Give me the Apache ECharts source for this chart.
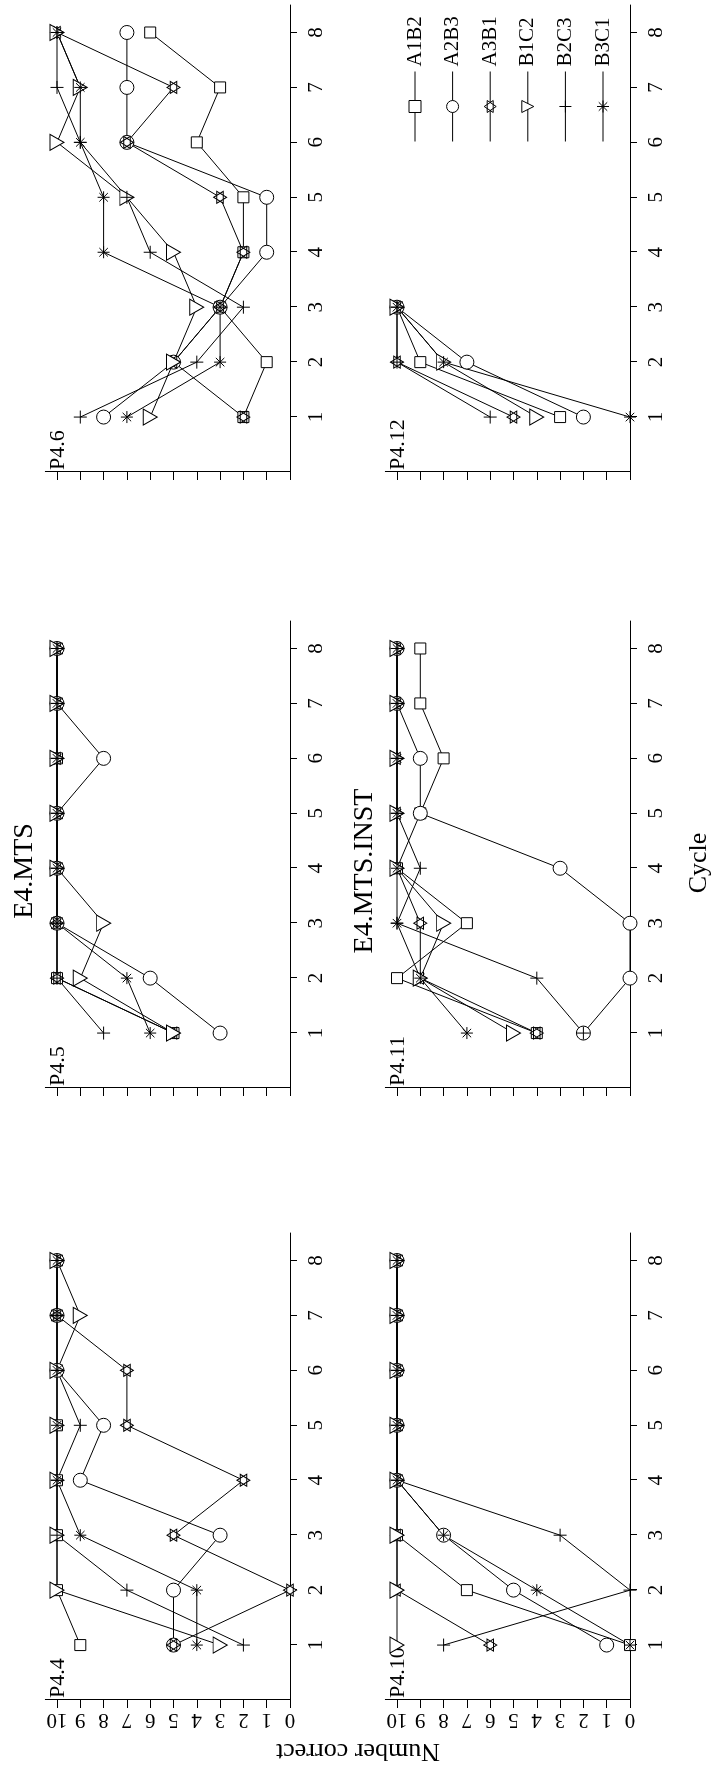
<!DOCTYPE html>
<html>
<head>
<meta charset="utf-8">
<script src="https://cdn.jsdelivr.net/npm/echarts@6/dist/echarts.min.js"></script>
<style>
  html, body { margin: 0; padding: 0; background: #fff; width: 715px; height: 1767px; overflow: hidden; }
  #wrap { position: absolute; left: 0; top: 0; width: 1767px; height: 715px;
          transform-origin: 0 0; transform: translate(0px, 1767px) rotate(-90deg); }
  #chart { width: 1767px; height: 715px; }
</style>
</head>
<body>
<div id="wrap"><div id="chart"></div></div>
<script>
// ---------------- data ----------------
const cycles = [1, 2, 3, 4, 5, 6, 7, 8];
const groups = ['A1B2', 'A2B3', 'A3B1', 'B1C2', 'B2C3', 'B3C1'];
const cycleTicks = [1, 2, 3, 4, 5, 6, 7, 8];
const valueTicks = [0, 1, 2, 3, 4, 5, 6, 7, 8, 9, 10];
const panelNames = ['P4.4', 'P4.5', 'P4.6', 'P4.10', 'P4.11', 'P4.12'];
const columnTitles = ['E4.MTS', 'E4.MTS.INST'];
const xTitle = 'Cycle';
const yTitle = 'Number correct';

// number correct per cycle, one row per group (order of `groups`)
const P4_4 = [
  [9, 10, 10, 10, 10, 10, 10, 10],
  [5, 5, 3, 9, 8, 10, 10, 10],
  [5, 0, 5, 2, 7, 7, 10, 10],
  [3, 10, 10, 10, 10, 10, 9, 10],
  [2, 7, 10, 10, 9, 10, 10, 10],
  [4, 4, 9, 10, 10, 10, 10, 10]
];
const P4_5 = [
  [5, 10, 10, 10, 10, 10, 10, 10],
  [3, 6, 10, 10, 10, 8, 10, 10],
  [5, 10, 10, 10, 10, 10, 10, 10],
  [5, 9, 8, 10, 10, 10, 10, 10],
  [8, 10, 10, 10, 10, 10, 10, 10],
  [6, 7, 10, 10, 10, 10, 10, 10]
];
const P4_6 = [
  [2, 1, 3, 2, 2, 4, 3, 6],
  [8, 5, 3, 1, 1, 7, 7, 7],
  [2, 5, 3, 2, 3, 7, 5, 10],
  [6, 5, 4, 5, 7, 10, 9, 10],
  [9, 4, 2, 6, 7, 9, 10, 10],
  [7, 3, 3, 8, 8, 9, 9, 10]
];
const P4_10 = [
  [0, 7, 10, 10, 10, 10, 10, 10],
  [1, 5, 8, 10, 10, 10, 10, 10],
  [6, 10, 10, 10, 10, 10, 10, 10],
  [10, 10, 10, 10, 10, 10, 10, 10],
  [8, 0, 3, 10, 10, 10, 10, 10],
  [0, 4, 8, 10, 10, 10, 10, 10]
];
const P4_11 = [
  [4, 10, 7, 10, 9, 8, 9, 9],
  [2, 0, 0, 3, 9, 9, 10, 10],
  [4, 9, 9, 10, 10, 10, 10, 10],
  [5, 9, 8, 10, 10, 10, 10, 10],
  [2, 4, 10, 9, 10, 10, 10, 10],
  [7, 9, 10, 10, 10, 10, 10, 10]
];
const P4_12 = [
  [3, 9, 10],
  [2, 7, 10],
  [5, 10, 10],
  [4, 8, 10],
  [6, 10, 10],
  [0, 8, 10]
];
const panels = [P4_4, P4_5, P4_6, P4_10, P4_11, P4_12];

// ---------------- styling / layout (drawn in the un-rotated frame, then the page rotates it) ----------------
const FONT = '"Liberation Serif", "DejaVu Serif", serif';
const colLeft = [67, 679, 1295];
const rowTop = [45.35, 385.35];
const gridW = 467;
const gridH = 244.65;

const symbols = [
  'rect',
  'circle',
  'path://M5,0L9.33,7.5L0.67,7.5Z M5,10L0.67,2.5L9.33,2.5Z',
  'path://M0,0L10,0L5,8.66Z',
  'path://M5,0L5,10M0,5L10,5',
  'path://M5,0L5,10M0,5L10,5M1.46,1.46L8.54,8.54M8.54,1.46L1.46,8.54'
];
const symbolSizes = [11, 14, [12, 13], [16, 14], 13, 12];

const grids = [], xAxes = [], yAxes = [], series = [], graphics = [];
panels.forEach((panel, p) => {
  const row = Math.floor(p / 3), col = p % 3;
  grids.push({ left: colLeft[col], top: rowTop[row], width: gridW, height: gridH });
  xAxes.push({
    type: 'value', gridIndex: p, min: 0, max: 8.5,
    axisLine: { show: true, onZero: false, lineStyle: { color: '#000', width: 1 } },
    axisTick: { show: true, length: 7, customValues: cycleTicks, lineStyle: { color: '#000', width: 1 } },
    axisLabel: { show: true, customValues: cycleTicks, color: '#000', fontFamily: FONT, fontSize: 21, margin: 16 },
    splitLine: { show: false }
  });
  yAxes.push({
    type: 'value', gridIndex: p, min: 0, max: 10.5,
    axisLine: { show: true, onZero: false, lineStyle: { color: '#000', width: 1 } },
    axisTick: { show: true, length: 8, customValues: valueTicks, lineStyle: { color: '#000', width: 1 } },
    axisLabel: { show: col === 0, customValues: valueTicks, rotate: 90, color: '#000', fontFamily: FONT, fontSize: 21, margin: 9 },
    splitLine: { show: false }
  });
  panel.forEach((vals, g) => {
    series.push({
      name: groups[g], type: 'line', xAxisIndex: p, yAxisIndex: p,
      data: vals.map((v, i) => [cycles[i], v]),
      symbol: symbols[g], symbolSize: symbolSizes[g], showAllSymbol: true,
      lineStyle: { color: '#000', width: 1 },
      itemStyle: { color: '#fff', borderColor: '#000', borderWidth: 1 },
      emphasis: { disabled: true },
      silent: true, animation: false
    });
  });
  graphics.push({
    type: 'text', x: colLeft[col] + 2, y: rowTop[row] + 12.5,
    style: { text: panelNames[p], fill: '#000', fontFamily: FONT, fontSize: 22,
             textAlign: 'left', align: 'left', textVerticalAlign: 'middle', verticalAlign: 'middle' }
  });
});

columnTitles.forEach((t, r) => {
  graphics.push({
    type: 'text', x: 896, y: rowTop[r] - 21,
    style: { text: t, fill: '#000', fontFamily: FONT, fontSize: 28,
             textAlign: 'center', align: 'center', textVerticalAlign: 'middle', verticalAlign: 'middle' }
  });
});
graphics.push({
  type: 'text', x: 904, y: 699,
  style: { text: xTitle, fill: '#000', fontFamily: FONT, fontSize: 26,
           textAlign: 'center', align: 'center', textVerticalAlign: 'middle', verticalAlign: 'middle' }
});
graphics.push({
  type: 'text', x: 16, y: 358, rotation: Math.PI / 2,
  style: { text: yTitle, fill: '#000', fontFamily: FONT, fontSize: 26,
           textAlign: 'center', align: 'center', textVerticalAlign: 'middle', verticalAlign: 'middle' }
});

const chart = echarts.init(document.getElementById('chart'), null, { width: 1767, height: 715 });
chart.setOption({
  animation: false,
  backgroundColor: '#fff',
  grid: grids,
  xAxis: xAxes,
  yAxis: yAxes,
  legend: {
    data: groups, orient: 'vertical', left: 1620, top: 399.5,
    itemWidth: 70, itemHeight: 15, itemGap: 16.6,
    itemStyle: { color: '#fff', borderColor: '#000', borderWidth: 1 },
    lineStyle: { color: '#000', width: 1 },
    textStyle: { color: '#000', fontFamily: FONT, fontSize: 21, lineHeight: 15 },
    selectedMode: false
  },
  graphic: graphics,
  series: series
});
</script>
</body>
</html>
